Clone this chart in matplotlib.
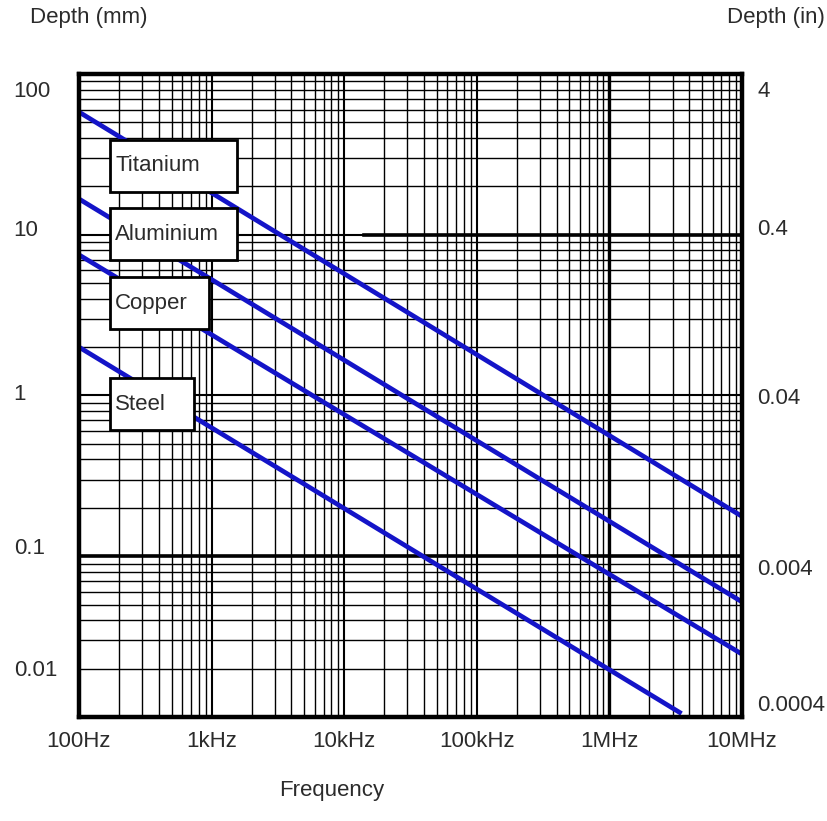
import numpy as np
import matplotlib.pyplot as plt
from matplotlib.patches import Rectangle
from matplotlib.ticker import LogLocator, NullFormatter
from matplotlib.transforms import ScaledTranslation

plt.rcParams['font.family'] = ['Liberation Sans', 'DejaVu Sans']

# skin depth lines (end points, straight on log-log)
materials = ['Titanium', 'Aluminium', 'Copper', 'Steel']
freq_start = [100, 100, 100, 100]
freq_end = [1e7, 1e7, 1e7, 3.5e6]
depth_start = [58.0, 16.7, 7.5, 2.0]
depth_end = [0.177, 0.052, 0.0246, 0.0105]

freq_ticks = [1e2, 1e3, 1e4, 1e5, 1e6, 1e7]
freq_labels = ['100Hz', '1kHz', '10kHz', '100kHz', '1MHz', '10MHz']
mm_ticks = [100, 10, 1, 0.1, 0.01]
mm_labels = ['100', '10', '1', '0.1', '0.01']
in_labels = ['4', '0.4', '0.04', '0.004', '0.0004']

txt = '#2b2b2b'
blue = '#1414c8'

fig = plt.figure(figsize=(8.28, 8.21), dpi=100)
ax = fig.add_axes([79/828, 1-717/821, 663/828, 643/821])
ax.set_xscale('log')
ax.set_yscale('log')
ax.set_xlim(1e2, 1e7)
ax.set_ylim(0.01, 100)

# log paper grid
ax.xaxis.set_minor_locator(LogLocator(base=10, subs=np.arange(2, 10)))
ax.yaxis.set_minor_locator(LogLocator(base=10, subs=np.arange(2, 10)))
ax.xaxis.set_minor_formatter(NullFormatter())
ax.yaxis.set_minor_formatter(NullFormatter())
ax.grid(which='minor', color='black', lw=1.0, zorder=1)
ax.grid(which='major', color='black', lw=1.5, zorder=1)
ax.axhline(10, xmin=0.43, color='black', lw=2.6, zorder=1)
ax.axhline(0.1, color='black', lw=2.6, zorder=1)
ax.axvline(1e6, color='black', lw=2.4, zorder=1)
for s in ax.spines.values():
    s.set_linewidth(3.2)
    s.set_zorder(5)

for i in range(len(materials)):
    ax.plot([freq_start[i], freq_end[i]], [depth_start[i], depth_end[i]],
            color=blue, lw=3.4, solid_capstyle='butt', zorder=3)

# label boxes (axes fractions)
boxes = {'Titanium': (0.0468, 0.8165, 0.1915),
         'Aluminium': (0.0468, 0.7107, 0.1915),
         'Copper': (0.0468, 0.6034, 0.1493),
         'Steel': (0.0468, 0.4463, 0.1267)}
bh = 0.0809
for name in materials:
    x0, y0, w = boxes[name]
    ax.add_patch(Rectangle((x0, y0), w, bh, transform=ax.transAxes,
                           facecolor='white', edgecolor='black', lw=2.0, zorder=4))
    ax.text(x0 + 0.008, y0 + bh/2, name, transform=ax.transAxes, ha='left',
            va='center', fontsize=16, color=txt, zorder=5)

ax.set_xticks(freq_ticks)
ax.set_xticklabels(freq_labels)
ax.set_yticks(mm_ticks)
ax.set_yticklabels(mm_labels)
ax.tick_params(which='both', length=0, labelsize=16, labelcolor=txt)
ax.tick_params(axis='x', pad=10)
ax.tick_params(axis='y', pad=47)

ax2 = ax.twinx()
ax2.set_yscale('log')
ax2.set_ylim(0.01, 100)
ax2.set_yticks(mm_ticks)
ax2.set_yticklabels(in_labels)
ax2.yaxis.set_minor_formatter(NullFormatter())
ax2.tick_params(which='both', length=0, labelsize=16, labelcolor=txt, pad=11)
for s in ax2.spines.values():
    s.set_visible(False)

# the printed labels sit a little off the grid lines
left_shift = [-15, 7, 3, 10, 49]
right_shift = [-15, 8, -1, -11, 14]
for lab, dy in zip(ax.get_yticklabels(), left_shift):
    lab.set_horizontalalignment('left')
    lab.set_transform(lab.get_transform() + ScaledTranslation(0, dy/100, fig.dpi_scale_trans))
for lab, dy in zip(ax2.get_yticklabels(), right_shift):
    lab.set_transform(lab.get_transform() + ScaledTranslation(0, dy/100, fig.dpi_scale_trans))

fig.text(30/828, 1-18/821, 'Depth (mm)', fontsize=16, color=txt, ha='left', va='center')
fig.text(825/828, 1-18/821, 'Depth (in)', fontsize=16, color=txt, ha='right', va='center')
fig.text(332/828, 1-790/821, 'Frequency', fontsize=16, color=txt, ha='center', va='center')

fig.savefig('out.png', dpi=100)
